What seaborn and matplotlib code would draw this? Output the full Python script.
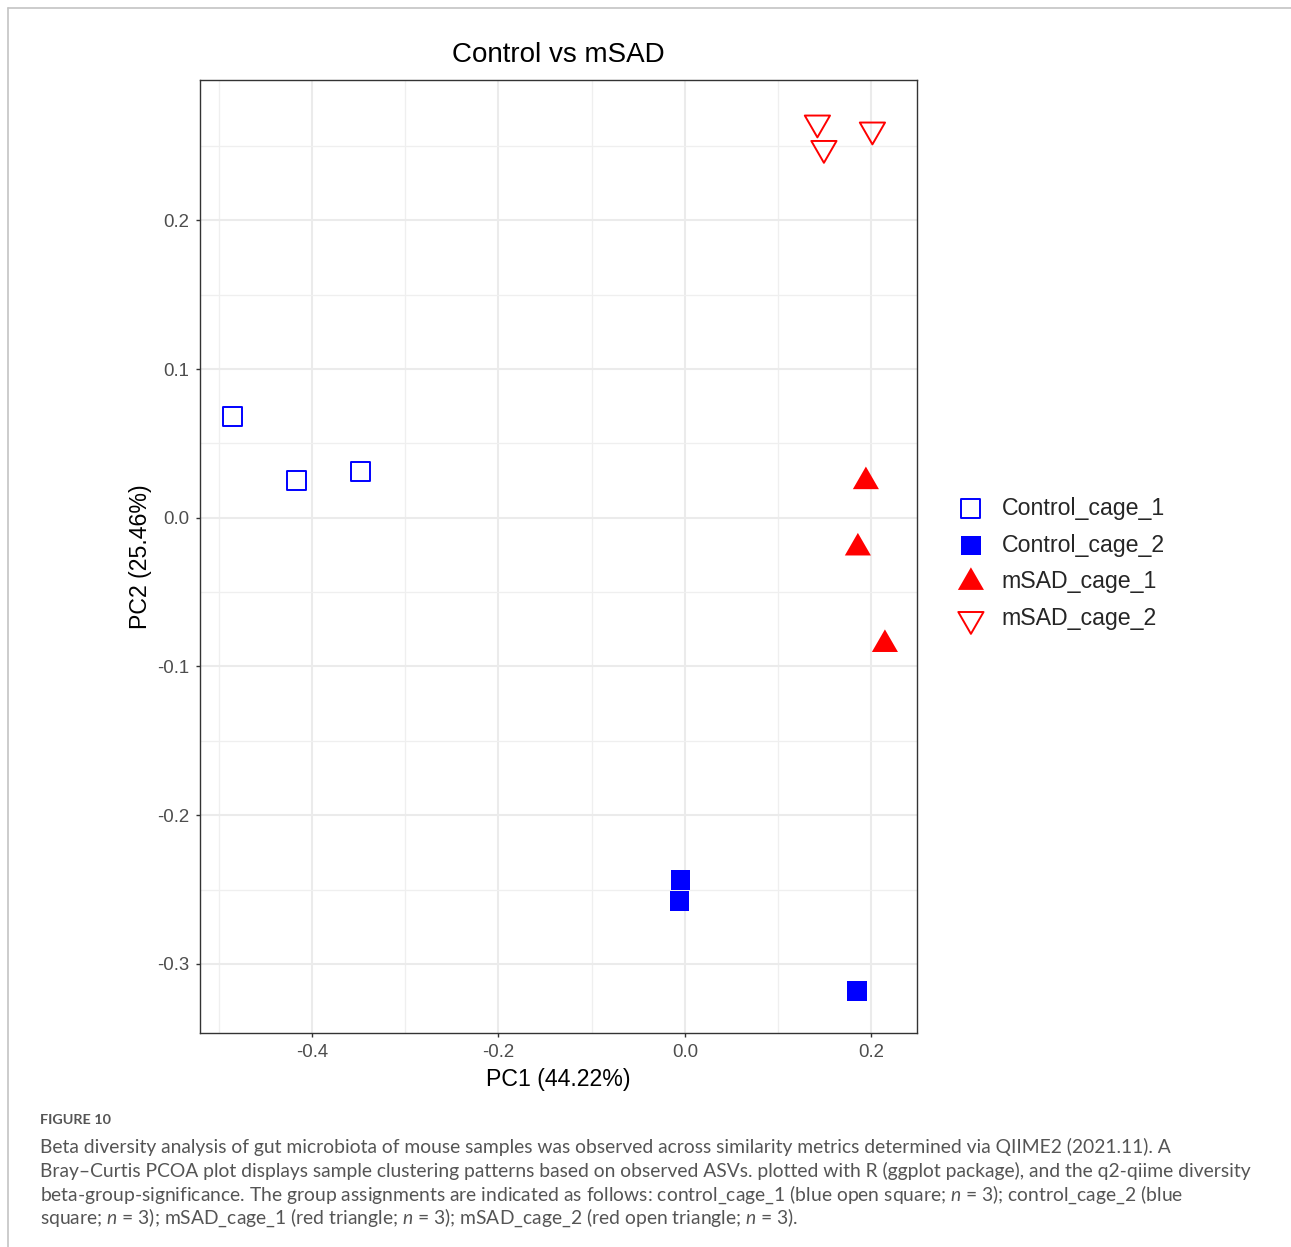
import numpy as np
import pandas as pd
import matplotlib
matplotlib.use("Agg")
import matplotlib.pyplot as plt
from matplotlib.path import Path
from matplotlib.lines import Line2D
from matplotlib.ticker import MultipleLocator, FormatStrFormatter
import seaborn as sns

# ---------------- data ----------------
groups = ["Control_cage_1", "Control_cage_2", "mSAD_cage_1", "mSAD_cage_2"]
pc1_control_cage_1 = [-0.485, -0.4164, -0.3483]
pc2_control_cage_1 = [0.0682, 0.0249, 0.0309]
pc1_control_cage_2 = [-0.0048, -0.0059, 0.1844]
pc2_control_cage_2 = [-0.2436, -0.2577, -0.3182]
pc1_msad_cage_1 = [0.194, 0.1854, 0.2144]
pc2_msad_cage_1 = [0.0243, -0.0203, -0.0852]
pc1_msad_cage_2 = [0.142, 0.149, 0.201]
pc2_msad_cage_2 = [0.2656, 0.2485, 0.2609]

title = "Control vs mSAD"
xlabel = "PC1 (44.22%)"
ylabel = "PC2 (25.46%)"
x_ticks = [-0.4, -0.2, 0.0, 0.2]
y_ticks = [-0.3, -0.2, -0.1, 0.0, 0.1, 0.2]

caption_head = "FIGURE 10"
caption_lines = [
    "Beta diversity analysis of gut microbiota of mouse samples was observed across similarity metrics determined via QIIME2 (2021.11). A",
    "Bray\u2013Curtis PCOA plot displays sample clustering patterns based on observed ASVs. plotted with R (ggplot package), and the q2-qiime diversity",
    "beta-group-significance. The group assignments are indicated as follows: control_cage_1 (blue open square; $n$ = 3); control_cage_2 (blue",
    "square; $n$ = 3); mSAD_cage_1 (red triangle; $n$ = 3); mSAD_cage_2 (red open triangle; $n$ = 3).",
]

df = pd.DataFrame({
    "PC1": pc1_control_cage_1 + pc1_control_cage_2 + pc1_msad_cage_1 + pc1_msad_cage_2,
    "PC2": pc2_control_cage_1 + pc2_control_cage_2 + pc2_msad_cage_1 + pc2_msad_cage_2,
    "group": [g for g in groups for _ in range(3)],
})

# ---------------- style ----------------
sns.set_theme(style="white")
plt.rcParams["font.family"] = ["Liberation Sans", "DejaVu Sans"]
plt.rcParams["axes.unicode_minus"] = False
plt.rcParams["mathtext.fontset"] = "custom"
plt.rcParams["mathtext.rm"] = "Lato"
plt.rcParams["mathtext.it"] = "Lato:italic"

W, H = 1291, 1247
fig = plt.figure(figsize=(W / 100, H / 100), dpi=100)
fig.patch.set_facecolor("white")
ax = fig.add_axes([200 / W, 1 - 1033 / H, 717 / W, 953 / H])

# markers: R-style squares and centroid-centred equilateral triangles
tri_up = Path([(0, 1), (-0.866, -0.5), (0.866, -0.5), (0, 1)], closed=True)
tri_dn = Path([(0, -1), (-0.866, 0.5), (0.866, 0.5), (0, -1)], closed=True)

specs = {
    "Control_cage_1": dict(marker="s", s=185, facecolor="none", edgecolor="#0000FF", linewidth=1.4),
    "Control_cage_2": dict(marker="s", s=196, facecolor="#0000FF", edgecolor="none", linewidth=0),
    "mSAD_cage_1": dict(marker=tri_up, s=470, facecolor="#FF0000", edgecolor="none", linewidth=0),
    "mSAD_cage_2": dict(marker=tri_dn, s=440, facecolor="none", edgecolor="#FF0000", linewidth=1.4),
}

for g in groups:
    sub = df[df["group"] == g]
    sns.scatterplot(data=sub, x="PC1", y="PC2", ax=ax, label=g, zorder=3, **specs[g])

ax.set_xlim(-0.520, 0.2488)
ax.set_ylim(-0.3465, 0.2944)

ax.xaxis.set_major_locator(MultipleLocator(0.2))
ax.xaxis.set_minor_locator(MultipleLocator(0.1))
ax.yaxis.set_major_locator(MultipleLocator(0.1))
ax.yaxis.set_minor_locator(MultipleLocator(0.05))
ax.set_xticks(x_ticks)
ax.set_yticks(y_ticks)
ax.xaxis.set_major_formatter(FormatStrFormatter("%.1f"))
ax.yaxis.set_major_formatter(FormatStrFormatter("%.1f"))

ax.grid(True, which="major", color="#EBEBEB", linewidth=1.5, zorder=0)
ax.grid(True, which="minor", color="#EFEFEF", linewidth=0.9, zorder=0)
ax.set_axisbelow(True)

for sp in ax.spines.values():
    sp.set_color("#333333")
    sp.set_linewidth(1.0)

ax.tick_params(axis="both", which="major", direction="out", length=3, width=1.0,
               color="#333333", labelcolor="#4D4D4D", labelsize=13.4, pad=5,
               bottom=True, left=True)
ax.tick_params(axis="both", which="minor", length=0)

ax.set_xlabel(xlabel, fontsize=16.7, color="black", labelpad=5)
ax.set_ylabel(ylabel, fontsize=16.7, color="black", labelpad=3)
ax.set_title(title, fontsize=20, color="black", pad=13)

leg = ax.legend(loc="center left", bbox_to_anchor=(957 / W, 1 - 563.5 / H),
                bbox_transform=fig.transFigure, frameon=False, fontsize=16.7,
                borderpad=0, borderaxespad=0, handlelength=1.2, handletextpad=0.72,
                labelspacing=0.6, scatterpoints=1)

# frame lines of the figure panel
fig.add_artist(Line2D([8 / W, 1.0], [1 - 7.5 / H, 1 - 7.5 / H], transform=fig.transFigure,
                      color="#C4C4C4", linewidth=1.2))
fig.add_artist(Line2D([8 / W, 8 / W], [0.0, 1 - 7.5 / H], transform=fig.transFigure,
                      color="#C4C4C4", linewidth=1.2))

# caption
fig.text(40 / W, 1 - 1120 / H, caption_head, fontsize=10.4, color="#555555",
         family=["Lato", "DejaVu Sans"], weight="bold", va="center", ha="left")
for i, line in enumerate(caption_lines):
    fig.text(40 / W, 1 - (1147 + i * 23.7) / H, line, fontsize=13.9, color="#555555",
             family=["Lato", "DejaVu Sans"], va="center", ha="left")

fig.savefig("out.png", dpi=100, facecolor="white")
